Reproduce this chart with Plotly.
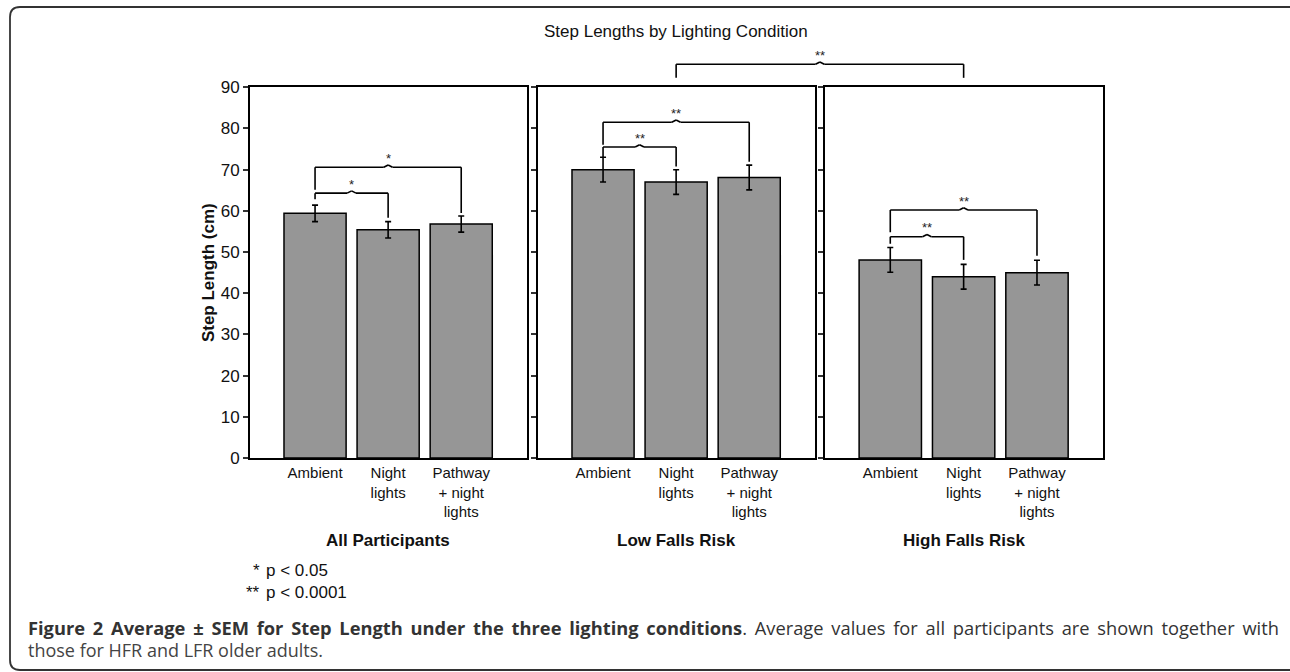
import plotly.graph_objects as go

# ---------------- data ----------------
groups = ["All Participants", "Low Falls Risk", "High Falls Risk"]
conditions = ["Ambient", "Night<br>lights", "Pathway<br>+ night<br>lights"]
all_mean = [59.4, 55.4, 56.8]
all_sem = [2.0, 2.0, 1.95]
low_mean = [70.0, 67.0, 68.1]
low_sem = [3.0, 3.0, 3.0]
high_mean = [48.1, 44.0, 45.0]
high_sem = [3.0, 3.0, 3.0]
y_ticks = [0, 10, 20, 30, 40, 50, 60, 70, 80, 90]

# significance brackets per panel: (from, to, level, left leg end, right leg end, label)
all_brackets = [(0, 1, 64.3, 62.8, 58.3, "*"), (0, 2, 70.6, 65.1, 59.5, "*")]
low_brackets = [(0, 1, 75.5, 73.1, 70.8, "**"), (0, 2, 81.5, 76.05, 71.9, "**")]
high_brackets = [(0, 1, 53.7, 52.0, 48.1, "**"), (0, 2, 60.2, 54.8, 49.1, "**")]
between_bracket = (95.6, 92.3, "**")   # Low vs High falls risk
legend_lines = [("*", "p < 0.05"), ("**", "p < 0.0001")]
caption_bold = "Figure 2 Average ± SEM for Step Length under the three lighting conditions"
caption_rest = ". Average values for all participants are shown together with"
caption_line2 = "those for HFR and LFR older adults."

# ---------------- layout geometry ----------------
W, H = 1290, 672
FONT = "Liberation Sans, Arial, sans-serif"
CAPFONT = "Open Sans, Noto Sans, sans-serif"
xdoms = [(250 / W, 527 / W), (538 / W, 815 / W), (825 / W, 1103 / W)]
ydom = (1 - 458 / H, 1 - 87.3 / H)
xr = [-0.89, 2.90]
yr = [0, 90]


def px_x(x):
    return x / W


def px_y(y):
    return 1 - y / H


def xpaper(panel, idx):
    d0, d1 = xdoms[panel]
    return d0 + (idx - xr[0]) / (xr[1] - xr[0]) * (d1 - d0)


def ypaper(v):
    return ydom[0] + (v - yr[0]) / (yr[1] - yr[0]) * (ydom[1] - ydom[0])


fig = go.Figure()
means = [all_mean, low_mean, high_mean]
sems = [all_sem, low_sem, high_sem]
brackets = [all_brackets, low_brackets, high_brackets]
axis_ids = ["", "2", "3"]

for i in range(3):
    fig.add_trace(go.Bar(
        x=conditions, y=means[i],
        error_y=dict(type="data", array=sems[i], color="black", thickness=1.6, width=3),
        marker=dict(color="#969696", line=dict(color="black", width=1.5)),
        width=0.85,
        xaxis="x" + axis_ids[i], yaxis="y" + axis_ids[i],
        showlegend=False, hoverinfo="skip",
    ))

layout = dict(
    width=W, height=H,
    margin=dict(l=0, r=0, t=0, b=0, pad=0),
    paper_bgcolor="white", plot_bgcolor="white",
    template="none",
    font=dict(family=FONT, color="#111", size=15),
    bargap=0.15,
)

for i in range(3):
    xa = dict(
        domain=list(xdoms[i]), range=xr, type="category",
        showline=True, linecolor="black", linewidth=2, mirror=True,
        showgrid=False, zeroline=False, ticks="",
        tickfont=dict(family=FONT, size=15, color="#111"),
        ticklabelstandoff=0,
        anchor="y" + axis_ids[i], automargin=False, fixedrange=True,
    )
    ya = dict(
        domain=list(ydom), range=yr, tickvals=y_ticks,
        showline=True, linecolor="black", linewidth=2, mirror=True,
        showgrid=False, zeroline=False, ticks="outside", ticklen=5, tickwidth=1.5,
        tickcolor="#333",
        showticklabels=(i == 0),
        tickfont=dict(family=FONT, size=17, color="#111"),
        anchor="x" + axis_ids[i], automargin=False, fixedrange=True,
    )
    if i == 0:
        ya["title"] = dict(text="<b>Step Length (cm)</b>", standoff=2,
                           font=dict(family=FONT, size=17, color="#111"))
    layout["xaxis" + axis_ids[i]] = xa
    layout["yaxis" + axis_ids[i]] = ya

fig.update_layout(**layout)

shapes = []
annotations = []
LW = 1.6
NOTCH_W = 0.06
NOTCH_H = 0.55


def add_bracket(xref, yref, xa, xb, level, la, lb, label, notch_w, notch_h):
    xm = (xa + xb) / 2
    line = dict(color="black", width=LW)
    segs = [
        (xa, la, xa, level),
        (xa, level, xm - notch_w, level),
        (xm - notch_w, level, xm, level + notch_h),
        (xm, level + notch_h, xm + notch_w, level),
        (xm + notch_w, level, xb, level),
        (xb, level, xb, lb),
    ]
    for (x0, y0, x1, y1) in segs:
        shapes.append(dict(type="line", xref=xref, yref=yref, x0=x0, y0=y0,
                           x1=x1, y1=y1, line=line, layer="above"))
    annotations.append(dict(x=xm, y=level, xref=xref, yref=yref, text=label,
                            showarrow=False, yanchor="middle", xanchor="center",
                            yshift=9, font=dict(family=FONT, size=13, color="#222")))


for i in range(3):
    for (a, b, lev, la, lb, lab) in brackets[i]:
        add_bracket("x" + axis_ids[i], "y" + axis_ids[i], a, b, lev, la, lb, lab,
                    NOTCH_W, NOTCH_H)

# bracket between Low and High falls risk panels (above plot area)
lev, leg, lab = between_bracket
add_bracket("paper", "paper", xpaper(1, 1), xpaper(2, 1), ypaper(lev), ypaper(leg),
            ypaper(leg), lab, NOTCH_W * (xdoms[0][1] - xdoms[0][0]) / (xr[1] - xr[0]),
            ypaper(NOTCH_H) - ypaper(0))

# chart title
annotations.append(dict(x=px_x(676.5), y=px_y(31.7), xref="paper", yref="paper",
                        text="Step Lengths by Lighting Condition", showarrow=False,
                        xanchor="center", yanchor="middle",
                        font=dict(family=FONT, size=17, color="#111")))

# group labels
for i in range(3):
    annotations.append(dict(x=xpaper(i, 1), y=px_y(540), xref="paper", yref="paper",
                            text="<b>" + groups[i] + "</b>", showarrow=False,
                            xanchor="center", yanchor="middle",
                            font=dict(family=FONT, size=17, color="#111")))

# significance legend
for k, (stars, txt) in enumerate(legend_lines):
    yy = px_y(570 + 22.7 * k)
    annotations.append(dict(x=px_x(262), y=yy, xref="paper", yref="paper", text=stars,
                            showarrow=False, xanchor="right", yanchor="middle",
                            font=dict(family=FONT, size=17, color="#111")))
    annotations.append(dict(x=px_x(264), y=yy, xref="paper", yref="paper", text=txt,
                            showarrow=False, xanchor="left", yanchor="middle",
                            font=dict(family=FONT, size=17, color="#111")))

# caption (line 1 is justified in the original: widen word gaps with thin spaces)
JS = " \u2009"
line1 = "<b>" + caption_bold.replace(" ", JS) + "</b>" + caption_rest.replace(" ", JS)
annotations.append(dict(x=px_x(26), y=px_y(627.5), xref="paper", yref="paper",
                        text=line1,
                        showarrow=False, xanchor="left", yanchor="middle",
                        font=dict(family=CAPFONT, size=18.3, color="#333")))
annotations.append(dict(x=px_x(26), y=px_y(650), xref="paper", yref="paper",
                        text=caption_line2, showarrow=False, xanchor="left",
                        yanchor="middle", font=dict(family=CAPFONT, size=18, color="#444")))

# rounded frame (open on the right side)
x0, x1 = px_x(10), px_x(1310)
yt, yb = px_y(7), px_y(670)
rx, ry = 10 / W, 10 / H
frame = (f"M {x1},{yt} L {x0 + rx},{yt} Q {x0},{yt} {x0},{yt - ry} "
         f"L {x0},{yb + ry} Q {x0},{yb} {x0 + rx},{yb} L {x1},{yb}")
shapes.append(dict(type="path", xref="paper", yref="paper", path=frame,
                   line=dict(color="#333", width=1.8), layer="above"))

fig.update_layout(shapes=shapes, annotations=annotations)
fig.write_html("out.html", config={"displayModeBar": False},
               post_script="document.body.style.margin='0';document.body.style.overflow='hidden';")
